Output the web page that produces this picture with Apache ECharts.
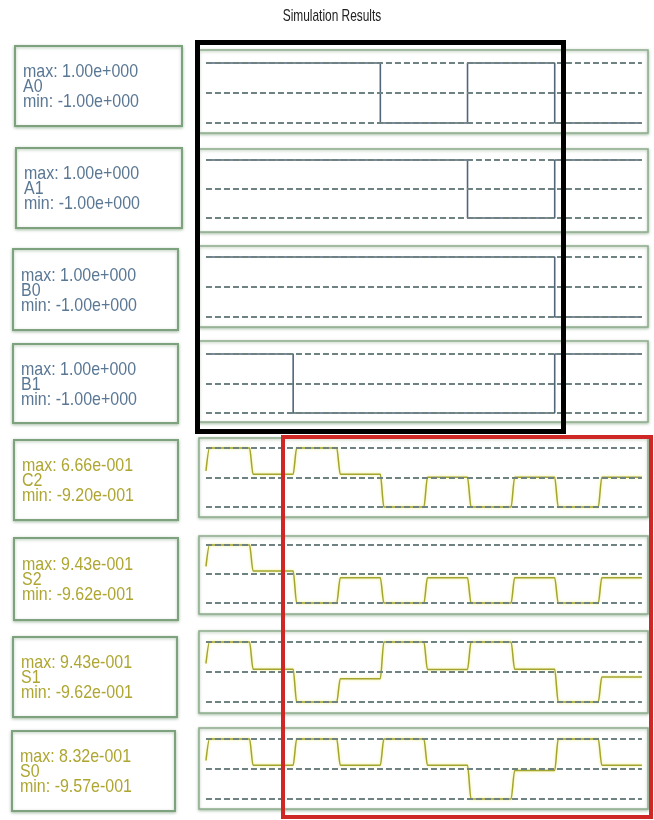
<!DOCTYPE html>
<html>
<head>
<meta charset="utf-8">
<script src="https://cdn.jsdelivr.net/npm/echarts@6/dist/echarts.min.js"></script>
<style>
html,body{margin:0;padding:0;background:#fff;}
#chart{width:654px;height:820px;}
</style>
</head>
<body>
<div id="chart"></div>
<script>
// ---------------- DATA ----------------
const titleText = 'Simulation Results';
const signalNames = ['A0', 'A1', 'B0', 'B1', 'C2', 'S2', 'S1', 'S0'];
const maxLabels = ['1.00e+000', '1.00e+000', '1.00e+000', '1.00e+000', '6.66e-001', '9.43e-001', '9.43e-001', '8.32e-001'];
const minLabels = ['-1.00e+000', '-1.00e+000', '-1.00e+000', '-1.00e+000', '-9.20e-001', '-9.62e-001', '-9.62e-001', '-9.57e-001'];
const maxValues = [1, 1, 1, 1, 0.666, 0.943, 0.943, 0.832];
const minValues = [-1, -1, -1, -1, -0.920, -0.962, -0.962, -0.957];

// digital signals: value held from each time to the next
const digitalTimes = [0, 1, 2, 3, 4, 5];
const A0 = [1, 1, -1, 1, -1, -1];
const A1 = [1, 1, 1, -1, 1, 1];
const B0 = [1, 1, 1, 1, -1, -1];
const B1 = [1, -1, -1, -1, 1, 1];

// analog signals: value held on each half-unit interval
const analogTimes = [0, 0.5, 1, 1.5, 2, 2.5, 3, 3.5, 4, 4.5, 5];
const C2 = [0.666, -0.04, 0.666, -0.04, -0.920, -0.12, -0.920, -0.12, -0.920, -0.12];
const S2 = [0.943, 0.09, -0.962, -0.13, -0.962, -0.13, -0.962, -0.13, -0.962, -0.13];
const S1 = [0.943, 0.08, -0.962, -0.22, 0.943, 0.07, 0.943, 0.08, -0.962, -0.17];
const S0 = [0.832, 0.05, 0.832, 0.05, 0.832, 0.05, -0.957, -0.11, 0.832, 0.05];
const analogStart = [0.05, 0.24, 0.26, 0.19];

// ---------------- LAYOUT / STYLE ----------------
const plotTop    = [50, 149, 246, 341, 438, 536, 631, 728];
const plotBottom = [133, 232, 327, 422, 517, 614, 713, 809];
const dashTop    = [63, 160, 257, 354, 448, 545, 642, 739];
const dashBottom = [123, 218, 317, 413, 507, 603, 702, 799];
const boxX = [15, 16, 13, 13, 14, 14, 13, 12];
const boxY = [46, 148, 249, 344, 440, 538, 637, 731];
const boxW = [167, 166, 165, 165, 164, 164, 164, 163];
const boxH = [80, 80, 81, 79, 80, 82, 80, 80];
const rampWidth = 0.04;

const digitalColor = '#52667a';
const digitalText = '#5a7794';
const analogColor = '#a3a52e';
const analogText = '#aea631';
const dashColor = '#6f8282';
const boxBorder = '#7ea27e';
const labelFont = '17px "Liberation Sans", Arial, sans-serif';

const digitalSeries = [A0, A1, B0, B1];
const analogSeries = [C2, S2, S1, S0];

function digitalData(vals) {
  return digitalTimes.map((t, i) => [t, vals[i]]);
}
function analogData(vals, start) {
  const d = [[0, start], [rampWidth, vals[0]]];
  for (let i = 1; i < vals.length; i++) {
    d.push([analogTimes[i], vals[i - 1]]);
    d.push([analogTimes[i] + rampWidth, vals[i]]);
  }
  d.push([analogTimes[analogTimes.length - 1], vals[vals.length - 1]]);
  return d;
}

const grids = [], xAxes = [], yAxes = [], series = [], graphics = [];

for (let i = 0; i < 8; i++) {
  const vmax = maxValues[i], vmin = minValues[i];
  const k = (dashBottom[i] - dashTop[i]) / (vmax - vmin);
  const axMax = vmax + (dashTop[i] - plotTop[i]) / k;
  const axMin = vmin - (plotBottom[i] - dashBottom[i]) / k;
  grids.push({
    left: 199, right: 6, top: plotTop[i], height: plotBottom[i] - plotTop[i],
    show: true, backgroundColor: '#ffffff', borderColor: '#8dac8d', borderWidth: 1.5,
    shadowColor: 'rgba(110,150,110,0.55)', shadowBlur: 3, shadowOffsetY: 1
  });
  xAxes.push({ type: 'value', gridIndex: i, min: -0.08, max: 5.07, show: false });
  yAxes.push({ type: 'value', gridIndex: i, min: axMin, max: axMax, show: false });
  const mid = (vmax + vmin) / 2;
  const isDigital = i < 4;
  const mlData = [vmax, mid, vmin].map(v => [{ coord: [0, v] }, { coord: [5, v] }]);
  series.push({
    type: 'line', xAxisIndex: i, yAxisIndex: i,
    data: isDigital ? digitalData(digitalSeries[i]) : analogData(analogSeries[i - 4], analogStart[i - 4]),
    step: isDigital ? 'end' : false,
    smooth: isDigital ? false : 0.3,
    smoothMonotone: 'x',
    showSymbol: false, symbol: 'none', silent: true, animation: false,
    lineStyle: isDigital
      ? { color: digitalColor, width: 1.6 }
      : { color: analogColor, width: 1.5, shadowColor: 'rgba(235,235,110,0.9)', shadowBlur: 3 },
    markLine: {
      silent: true, symbol: 'none', animation: false,
      label: { show: false },
      lineStyle: { color: dashColor, width: 2, type: [6, 3] },
      data: mlData
    },
    z: 3
  });

  // label box
  const col = isDigital ? digitalText : analogText;
  const cy = boxY[i] + boxH[i] / 2 + 1;
  graphics.push({
    type: 'rect', shape: { x: boxX[i], y: boxY[i], width: boxW[i], height: boxH[i] },
    style: { fill: '#fff', stroke: boxBorder, lineWidth: 2, shadowColor: 'rgba(110,150,110,0.5)', shadowBlur: 3, shadowOffsetY: 1 },
    z: 1
  });
  const lines = ['max: ' + maxLabels[i], signalNames[i], 'min: ' + minLabels[i]];
  lines.forEach((txt, j) => {
    graphics.push({
      type: 'text', x: boxX[i] + 8, y: cy + (j - 1) * 15, scaleX: 0.94, scaleY: 1.08,
      style: { text: txt, fill: col, font: labelFont, verticalAlign: 'middle' },
      z: 2
    });
  });
}

// title (condensed look)
graphics.push({
  type: 'text', x: 332, y: 16, scaleX: 0.7,
  style: { text: titleText, fill: '#222', font: '17px "Liberation Sans", Arial, sans-serif', align: 'center', verticalAlign: 'middle' },
  z: 5
});

// highlight rectangles
graphics.push({
  type: 'rect', shape: { x: 197.5, y: 42.5, width: 366, height: 389 },
  style: { fill: 'none', stroke: '#000', lineWidth: 5 }, z: 100
});
graphics.push({
  type: 'rect', shape: { x: 283, y: 437, width: 368, height: 380 },
  style: { fill: 'none', stroke: '#cf2626', lineWidth: 4 }, z: 100
});

const chart = echarts.init(document.getElementById('chart'), null, { renderer: 'canvas' });
chart.setOption({
  animation: false,
  backgroundColor: '#ffffff',
  grid: grids,
  xAxis: xAxes,
  yAxis: yAxes,
  series: series,
  graphic: { elements: graphics }
});
</script>
</body>
</html>
